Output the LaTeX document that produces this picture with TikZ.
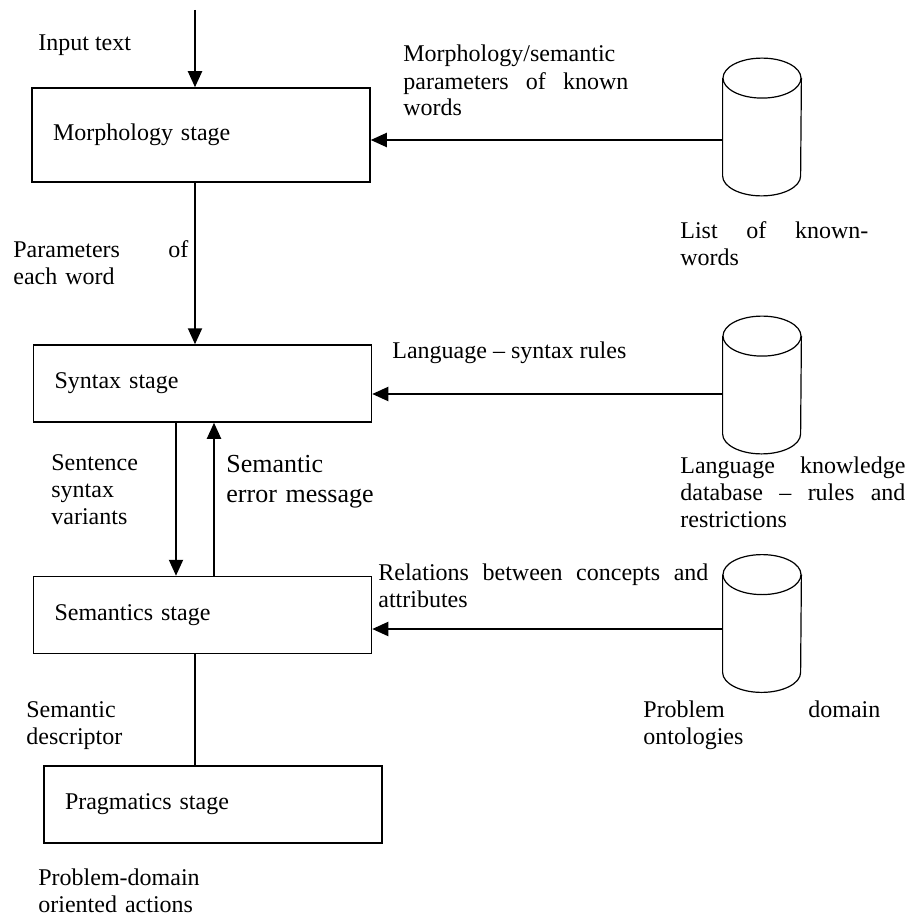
\documentclass[tikz,border=0pt]{standalone}
\usepackage{fontspec}
\setmainfont{Liberation Serif}
\usetikzlibrary{arrows.meta}

\begin{document}
\begin{tikzpicture}[x=0.5pt, y=-0.5pt, font=\fontsize{12}{13.5}\selectfont,
    stage/.style={draw, line width=0.75pt, minimum height=38.5pt, text width=148pt, inner xsep=10.5pt, align=left},
    db/.style={minimum width=39pt, minimum height=68.5pt, inner sep=0pt},
    txt/.style={anchor=base west, inner sep=0pt, align=left},
    flow/.style={line width=1pt, -{Triangle[length=8pt, width=7pt]}}]
\useasboundingbox (0,0) rectangle (907,915);

\node[stage, minimum height=47pt] (morph) at (201,135) {Morphology stage};
\node[stage] (syntax) at (202.5,383.5) {Syntax stage};
\node[stage] (sem) at (202.5,615) {Semantics stage};
\node[stage] (prag) at (213,804.5) {Pragmatics stage};

\node[db] (lexicon) at (762,127) {};
\node[db] (grammar) at (762,385) {};
\node[db] (ontology) at (762,623.5) {};
\foreach \d in {lexicon,grammar,ontology}{
    \draw[line width=0.6pt] ([yshift=-10pt]\d.north) ellipse [x radius=19.5pt, y radius=10pt];
    \draw[line width=0.6pt] ([yshift=-10pt]\d.north west) -- ([yshift=10pt]\d.south west)
        arc [start angle=180, end angle=360, x radius=19.5pt, y radius=10pt] -- ([yshift=-10pt]\d.north east);
}

\coordinate (top) at (195,10);
\draw[flow] (top) -- (top |- morph.north);
\draw[flow] (top |- morph.south) -- (top |- syntax.north);
\draw[flow] ([xshift=-9.5pt]top |- syntax.south) -- ([xshift=-9.5pt]top |- sem.north);
\draw[flow] ([xshift=9.5pt]top |- sem.north) -- ([xshift=9.5pt]top |- syntax.south);
\draw[line width=1pt] (top |- sem.south) -- (top |- prag.north);

\draw[flow] ([yshift=-6.5pt]lexicon.west) -- ([yshift=-6.5pt]lexicon.west -| morph.east);
\draw[flow] ([yshift=-4.5pt]grammar.west) -- ([yshift=-4.5pt]grammar.west -| syntax.east);
\draw[flow] ([yshift=-2.75pt]ontology.west) -- ([yshift=-2.75pt]ontology.west -| sem.east);

\node[txt] (intext) at (38,51) {Input text};
\node[txt, text width=112.5pt] (lexnote) at (403,62) {Morphology/semantic\\parameters\hfill of\hfill known\\words};
\node[txt, text width=94pt] (lexname) at (680,238) {List\hfill of\hfill known-\\words};
\node[txt, text width=87.5pt] (wordpar) at (13,257) {Parameters\hfill of\\each word};
\node[txt] (gramnote) at (392,358) {Language -- syntax rules};
\node[txt, text width=112.5pt] (gramname) at (680,473) {Language\hfill knowledge\\database\hfill --\hfill rules\hfill and\\restrictions};
\node[txt, text width=60pt] (variants) at (51,470) {Sentence\\syntax\\variants};
\node[txt, text width=80pt, font=\fontsize{13}{15}\selectfont] (errmsg) at (226,472) {Semantic\\error message};
\node[txt, text width=165pt] (ontnote) at (378,580) {Relations\hfill between\hfill concepts\hfill and\\attributes};
\node[txt, text width=118.5pt] (ontname) at (643,717) {Problem\hfill domain\\ontologies};
\node[txt, text width=60pt] (descr) at (26,717) {Semantic\\descriptor};
\node[txt, text width=90pt] (actions) at (38,885) {Problem-domain\\oriented actions};
\end{tikzpicture}
\end{document}
